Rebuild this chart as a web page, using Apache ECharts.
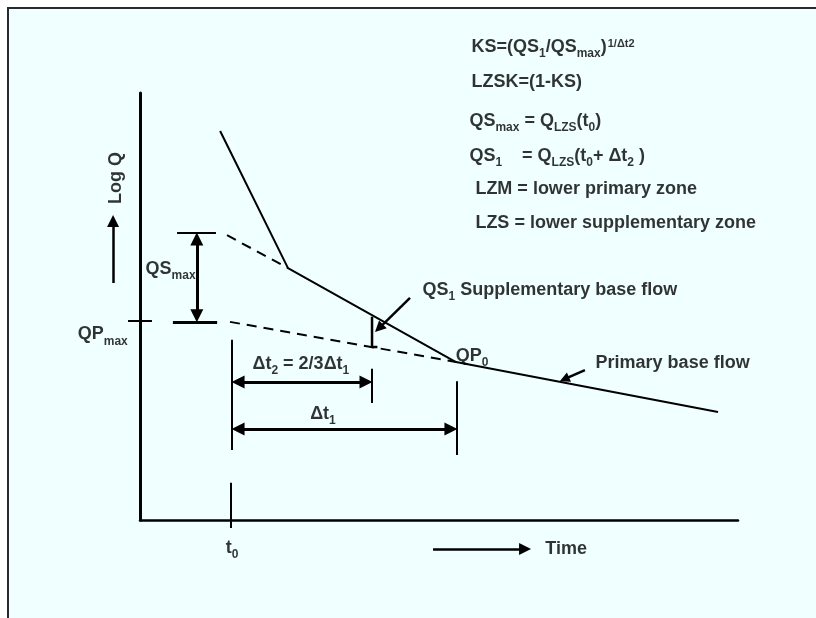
<!DOCTYPE html>
<html>
<head>
<meta charset="utf-8">
<script src="https://cdn.jsdelivr.net/npm/echarts@6/dist/echarts.min.js"></script>
<style>
    html, body { margin: 0; padding: 0; background: #ffffff; }
    #chart { width: 816px; height: 618px; }
</style>
</head>
<body>
<div id="chart"></div>
<script>
// 坐标单位: x 为时间 (0-100), y 为 log Q (0-100)
const recession = [[13.4, 91.1], [24.75, 59.0], [52.84, 37.0], [96.66, 25.3]]
const qsMaxExtrap = [[14.55, 66.7], [24.75, 59.0]]
const qpMaxExtrap = [[15.05, 46.4], [52.84, 37.0]]
const qs1Bracket = [[38.8, 47.6], [38.8, 40.5], [39.7, 40.5]]

// 辅助线段 (无箭头)
const tickSegments = [
    [[6.2, 67.2], [12.7, 67.2]],
    [[5.5, 46.4], [12.9, 46.4]],
    [[-2.0, 46.6], [2.0, 46.6]],
    [[15.2, 8.7], [15.2, -1.9]],
    [[15.4, 42.2], [15.4, 16.4]],
    [[53.0, 32.5], [53.0, 15.2]],
    [[38.8, 35.4], [38.8, 27.4]]
]
const tickWidths = [2, 3, 2, 2, 2, 2, 2]

// 双向箭头
const doubleArrows = [
    [[9.5, 67.2], [9.5, 46.4]],
    [[15.4, 32.3], [38.8, 32.3]],
    [[15.4, 21.3], [53.0, 21.3]]
]
// 单向箭头 (终点为箭头)
const singleArrows = [
    [[-4.5, 55.5], [-4.5, 71.4]],
    [[45.15, 52.0], [39.3, 44.0]],
    [[74.4, 35.1], [70.2, 32.5]],
    [[49.0, -6.8], [65.4, -6.8]]
]
const singleArrowSizes = [12, 11, 10, 12]

// 文字
const labelTexts = [
    '{b|KS=(QS}{s|1}{b|/QS}{s|max}{b|)}{p|1/Δt2}',
    '{b|LZSK=(1-KS)}',
    '{b|QS}{s|max}{b| = Q}{s|LZS}{b|(t}{s|0}{b|)}',
    '{b|QS}{s|1}{b|    = Q}{s|LZS}{b|(t}{s|0}{b|+ Δt}{s|2}{b| )}',
    '{b|LZM = lower primary zone}',
    '{b|LZS = lower supplementary zone}',
    '{b|QS}{s|1}{b| Supplementary base flow}',
    '{b|QP}{s|0}',
    '{b|Primary base flow}',
    '{b|Δt}{s|2}{b| = 2/3Δt}{s|1}',
    '{b|Δt}{s|1}',
    '{b|QS}{s|max}',
    '{b|QP}{s|max}',
    '{b|t}{s|0}',
    '{b|Time}',
    '{b|Log Q}'
]
const labelPos = [
    [55.35, 111.0], [55.35, 102.8], [55.0, 93.7], [55.0, 85.5], [56.0, 77.75], [56.0, 69.8],
    [47.15, 54.1], [52.7, 38.6], [76.1, 37.0], [26.9, 36.8], [30.6, 25.1],
    [0.85, 59.0], [-10.5, 43.7], [15.4, -6.3], [67.7, -6.6], [-4.2, 80.1]
]
const labelAlign = ['l', 'l', 'l', 'l', 'l', 'l', 'l', 'l', 'l', 'c', 'c', 'l', 'l', 'c', 'l', 'r']

const GRID = { left: 140, top: 93, width: 598, height: 427 }
const PX_X = GRID.width / 100
const PX_Y = GRID.height / 100

// 把端点沿线段方向往回收 d 像素, 让箭头尖正好落在端点
function pull(p, q, d) {
    const dx = (q[0] - p[0]) * PX_X
    const dy = (q[1] - p[1]) * PX_Y
    const len = Math.hypot(dx, dy)
    return [p[0] + (q[0] - p[0]) * d / len, p[1] + (q[1] - p[1]) * d / len]
}

const FONT = '"Liberation Sans", Arial, sans-serif'
const rich = {
    b: { fontFamily: FONT, fontWeight: 'bold', fontSize: 18, height: 18, lineHeight: 16, verticalAlign: 'top', color: '#000' },
    s: { fontFamily: FONT, fontWeight: 'bold', fontSize: 12, height: 12, lineHeight: 16, padding: [10, 0, 0, 0], verticalAlign: 'top', color: '#000' },
    p: { fontFamily: FONT, fontWeight: 'bold', fontSize: 11, height: 11, lineHeight: 16, padding: [0, 0, 0, 1], verticalAlign: 'top', color: '#000' }
}

const dashed = { color: '#000', width: 2, type: [10, 7] }

const option = {
    animation: false,
    backgroundColor: '#ffffff',
    graphic: [{
        type: 'rect',
        z: -10,
        shape: { x: 8, y: 8, width: 820, height: 620 },
        style: { fill: '#f0ffff', stroke: '#2a2a2a', lineWidth: 2 }
    }],
    grid: GRID,
    xAxis: {
        type: 'value', min: 0, max: 100,
        axisLine: { show: true, onZero: false, lineStyle: { color: '#000', width: 2.5 } },
        axisTick: { show: false }, axisLabel: { show: false }, splitLine: { show: false }
    },
    yAxis: {
        type: 'value', min: 0, max: 100,
        axisLine: { show: true, onZero: false, lineStyle: { color: '#000', width: 3 } },
        axisTick: { show: false }, axisLabel: { show: false }, splitLine: { show: false }
    },
    series: [
        {
            type: 'line', data: recession, symbol: 'none', clip: false,
            lineStyle: { color: '#000', width: 2 }
        },
        { type: 'line', data: qsMaxExtrap, symbol: 'none', clip: false, lineStyle: dashed },
        { type: 'line', data: qpMaxExtrap, symbol: 'none', clip: false, lineStyle: dashed },
        {
            type: 'line', data: qs1Bracket, symbol: 'none', clip: false,
            lineStyle: { color: '#000', width: 2.5 }
        },
        {
            type: 'lines', coordinateSystem: 'cartesian2d', clip: false, symbol: 'none',
            data: tickSegments.map((c, i) => ({ coords: c, lineStyle: { width: tickWidths[i] } })),
            lineStyle: { color: '#000', width: 2, opacity: 1 }
        },
        {
            type: 'lines', coordinateSystem: 'cartesian2d', clip: false,
            symbol: ['triangle', 'triangle'], symbolSize: 13,
            data: doubleArrows.map(c => ({ coords: [pull(c[0], c[1], 6), pull(c[1], c[0], 6)] })),
            lineStyle: { color: '#000', width: 3, opacity: 1 }
        },
        ...singleArrows.map((c, i) => ({
            type: 'lines', coordinateSystem: 'cartesian2d', clip: false,
            symbol: ['none', 'triangle'], symbolSize: singleArrowSizes[i],
            data: [{ coords: [c[0], pull(c[1], c[0], singleArrowSizes[i] / 2)] }],
            lineStyle: { color: '#000', width: 2.5, opacity: 1 }
        })),
        {
            type: 'scatter', clip: false, symbolSize: 1, z: 10,
            itemStyle: { color: 'rgba(0,0,0,0)' },
            data: labelTexts.map((t, i) => ({
                value: labelPos[i],
                label: {
                    show: true,
                    formatter: t,
                    position: labelAlign[i] === 'l' ? 'right' : 'inside',
                    distance: 0,
                    rotate: labelAlign[i] === 'r' ? 90 : 0,
                    rich: rich
                }
            }))
        }
    ]
}

const chart = echarts.init(document.getElementById('chart'))
chart.setOption(option)
</script>
</body>
</html>
